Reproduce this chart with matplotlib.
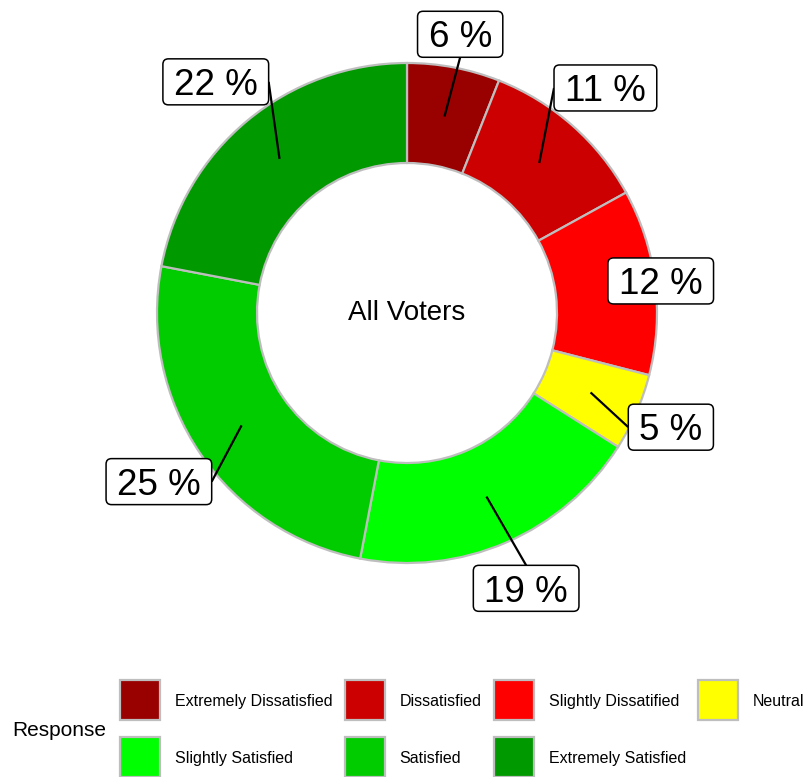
import numpy as np
import matplotlib
matplotlib.use('Agg')
import matplotlib.pyplot as plt
from matplotlib.patches import Rectangle, FancyBboxPatch

plt.rcParams['font.family'] = ['Liberation Sans', 'DejaVu Sans']

responses = ['Extremely Dissatisfied', 'Dissatisfied', 'Slightly Dissatified', 'Neutral',
             'Slightly Satisfied', 'Satisfied', 'Extremely Satisfied']
percent = [6, 11, 12, 5, 19, 25, 22]
colors = ['#990000', '#CC0000', '#FF0000', '#FFFF00', '#00FF00', '#00CC00', '#009900']
# how far out each label ends up after repelling (in outer radii)
label_r = [1.135, 1.2, 1.023, 1.15, 1.2, 1.2, 1.2]

W, H = 808, 777
cx, cy, R = 407, 313, 250          # donut centre / radius in pixels


def px(x, y):
    # pixel (from top-left) -> data coords
    return (x - cx) / R, (cy - y) / R


fig = plt.figure(figsize=(W/100, H/100), dpi=100)
ax = fig.add_axes([0, 0, 1, 1])

ax.pie(percent, colors=colors, startangle=90, counterclock=False,
       radius=1, center=(0, 0),
       wedgeprops=dict(width=0.4, edgecolor='#BEBEBE', linewidth=1.6))
ax.set_xlim(-cx/R, (W-cx)/R)
ax.set_ylim(-(H-cy)/R, cy/R)
ax.axis('off')

ax.text(0, 0, 'All Voters', ha='center', va='center', fontsize=20)

fig.canvas.draw()
rend = fig.canvas.get_renderer()

fs = 26.5
cap = 0.716 * fs * 100 / 72 / R     # cap height in data units
half_h = 23 / R
padx = 11 / R
cum = np.cumsum(percent) - np.array(percent) / 2
for p, c, lr in zip(percent, cum, label_r):
    ang = np.deg2rad(90 - c / 100 * 360)
    sx, sy = 0.8 * np.cos(ang), 0.8 * np.sin(ang)
    lx, ly = lr * np.cos(ang), lr * np.sin(ang)
    t = ax.text(lx, ly - cap / 2, f'{p} %', ha='center', va='baseline', fontsize=fs, zorder=8)
    tw = t.get_window_extent(rend).width / R
    x0, x1 = lx - tw / 2 - padx, lx + tw / 2 + padx
    y0, y1 = ly - half_h, ly + half_h
    ax.add_patch(FancyBboxPatch((x0, y0), x1 - x0, y1 - y0,
                                boxstyle='round,pad=0,rounding_size=0.022',
                                fc='white', ec='black', lw=1.1, zorder=7))
    # segment goes to the middle of the nearest box edge (ggrepel style)
    if x0 <= sx <= x1:
        ex, ey = lx, (y1 if sy > y1 else y0)
    else:
        ex, ey = (x1 if sx > x1 else x0), ly
    if np.hypot(ex - sx, ey - sy) * R > 20:
        ax.plot([sx, ex], [sy, ey], color='black', lw=1.6, zorder=6, solid_capstyle='butt')

# legend, laid out like the original: 4 columns, 2 rows
ncol = 4
key = 40
col_x0 = 120
row_y = [700, 757]
lab_fs = 11.5
lab_cap = 0.716 * lab_fs * 100 / 72
widths = []
for name in responses:
    tt = ax.text(0, 0, name, fontsize=lab_fs)
    widths.append(tt.get_window_extent(rend).width)
    tt.remove()
col_w = [max(widths[i] for i in range(len(responses)) if i % ncol == j) for j in range(ncol)]
col_x = [col_x0]
for j in range(ncol - 1):
    col_x.append(col_x[-1] + key + 15 + col_w[j] + 12)

for i, (name, col) in enumerate(zip(responses, colors)):
    r, j = divmod(i, ncol)
    kx, ky = px(col_x[j], row_y[r] + key / 2)
    ax.add_patch(Rectangle((kx, ky), key / R, key / R, fc=col, ec='#BEBEBE', lw=1.6, clip_on=False))
    tx, ty = px(col_x[j] + key + 15, row_y[r] + lab_cap / 2)
    ax.text(tx, ty, name, fontsize=lab_fs, ha='left', va='baseline')

rx, ry = px(12, 730)
ax.text(rx, ry, 'Response', fontsize=15, ha='left', va='center')

fig.savefig('out.png', dpi=100)
